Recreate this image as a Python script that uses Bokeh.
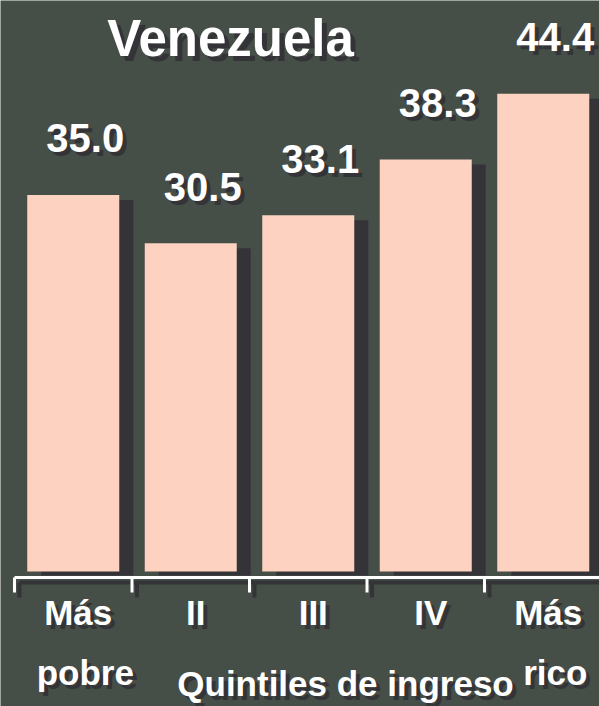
from bokeh.plotting import figure
from bokeh.models import Range1d, ColumnDataSource, Label
from bokeh.transform import dodge
from bokeh.core.properties import value
from bokeh.embed import file_html
from bokeh.resources import INLINE

categories = ["Más pobre", "II", "III", "IV", "Más rico"]
values = [35.0, 30.5, 33.1, 38.3, 44.4]
value_labels = ["35.0", "30.5", "33.1", "38.3", "44.4"]
tick_top = ["Más", "II", "III", "IV", "Más"]
tick_bottom = ["pobre", "", "", "", "rico"]
title_text = "Venezuela"
xlabel_text = "Quintiles de ingreso"

FONT = "Liberation Sans"
BG = "#454e47"
BAR = "#fdd2c0"
SHADOW = "#343438"
WHITE = "#ffffff"

W, H = 599, 706
PX_X = 117.5   # px per category
PX_Y = 10.76   # px per unit
X0 = 14        # px from left to first category boundary
Y0 = 135       # px from bottom to baseline
BL = 0.39      # baseline correction (fraction of font size)

xs = [i + 0.5 for i in range(len(categories))]
src = ColumnDataSource(dict(
    x=xs, top=values, stop=[v - 5 / PX_Y for v in values],
    lab=value_labels, t1=tick_top, t2=tick_bottom, zero=[0] * len(values),
))

p = figure(width=W, height=H, x_range=Range1d(-X0 / PX_X, (W - X0) / PX_X),
           y_range=Range1d(-Y0 / PX_Y, (H - Y0) / PX_Y),
           output_backend="svg", toolbar_location=None,
           x_axis_location=None, y_axis_location=None,
           background_fill_color=BG, border_fill_color=BG,
           min_border=0, outline_line_color=None)
p.grid.visible = False

# bar shadows and bars
p.vbar(x=dodge("x", 14 / PX_X), width=0.783, top="stop", bottom=-4 / PX_Y,
       source=src, fill_color=SHADOW, line_color=None)
p.vbar(x="x", width=0.783, top="top", bottom=0, source=src,
       fill_color=BAR, line_color=None)

# axis line with boundary ticks (shadow first)
bounds = list(range(len(categories) + 1))
ay = -6 / PX_Y
ty = ay - 15 / PX_Y
sx, sy = 5 / PX_X, -5 / PX_Y
p.segment(x0=[0 + sx], y0=[ay + sy], x1=[len(categories) + sx], y1=[ay + sy],
          line_color=SHADOW, line_width=4)
p.segment(x0=[b + sx for b in bounds], y0=[ay + sy] * len(bounds),
          x1=[b + sx for b in bounds], y1=[ty + sy] * len(bounds),
          line_color=SHADOW, line_width=4)
p.segment(x0=[0], y0=[ay], x1=[len(categories)], y1=[ay],
          line_color=WHITE, line_width=3)
p.segment(x0=bounds, y0=[ay] * len(bounds), x1=bounds, y1=[ty] * len(bounds),
          line_color=WHITE, line_width=3)


def shadow_text(x, y, text, size, xo, yo, d=4):
    yo = yo - BL * size
    for col, dd in ((SHADOW, d), (WHITE, 0)):
        p.text(x=x, y=y, text=text, source=src, x_offset=xo + dd, y_offset=yo + dd,
               text_font=value(FONT), text_font_size=f"{size}px", text_font_style="bold",
               text_align="center", text_baseline="alphabetic", text_color=col)


shadow_text("x", "top", "lab", 40, 12, -41)
shadow_text("x", "zero", "t1", 35, 5, 55)
shadow_text("x", "zero", "t2", 35, 12, 115)

TS, XS = 51, 35
for col, d in ((SHADOW, 5), (WHITE, 0)):
    p.add_layout(Label(x=230 + d, y=H - 58 + BL * TS - d, x_units="screen", y_units="screen",
                       text=title_text, text_font=FONT, text_font_size=f"{TS}px",
                       text_font_style="bold", text_align="center",
                       text_baseline="alphabetic", text_color=col))
    p.add_layout(Label(x=345 + d * 0.8, y=H - 697 + BL * XS - d * 0.8, x_units="screen", y_units="screen",
                       text=xlabel_text, text_font=FONT, text_font_size=f"{XS}px",
                       text_font_style="bold", text_align="center",
                       text_baseline="alphabetic", text_color=col))

open("out.html", "w").write(file_html(p, INLINE))
